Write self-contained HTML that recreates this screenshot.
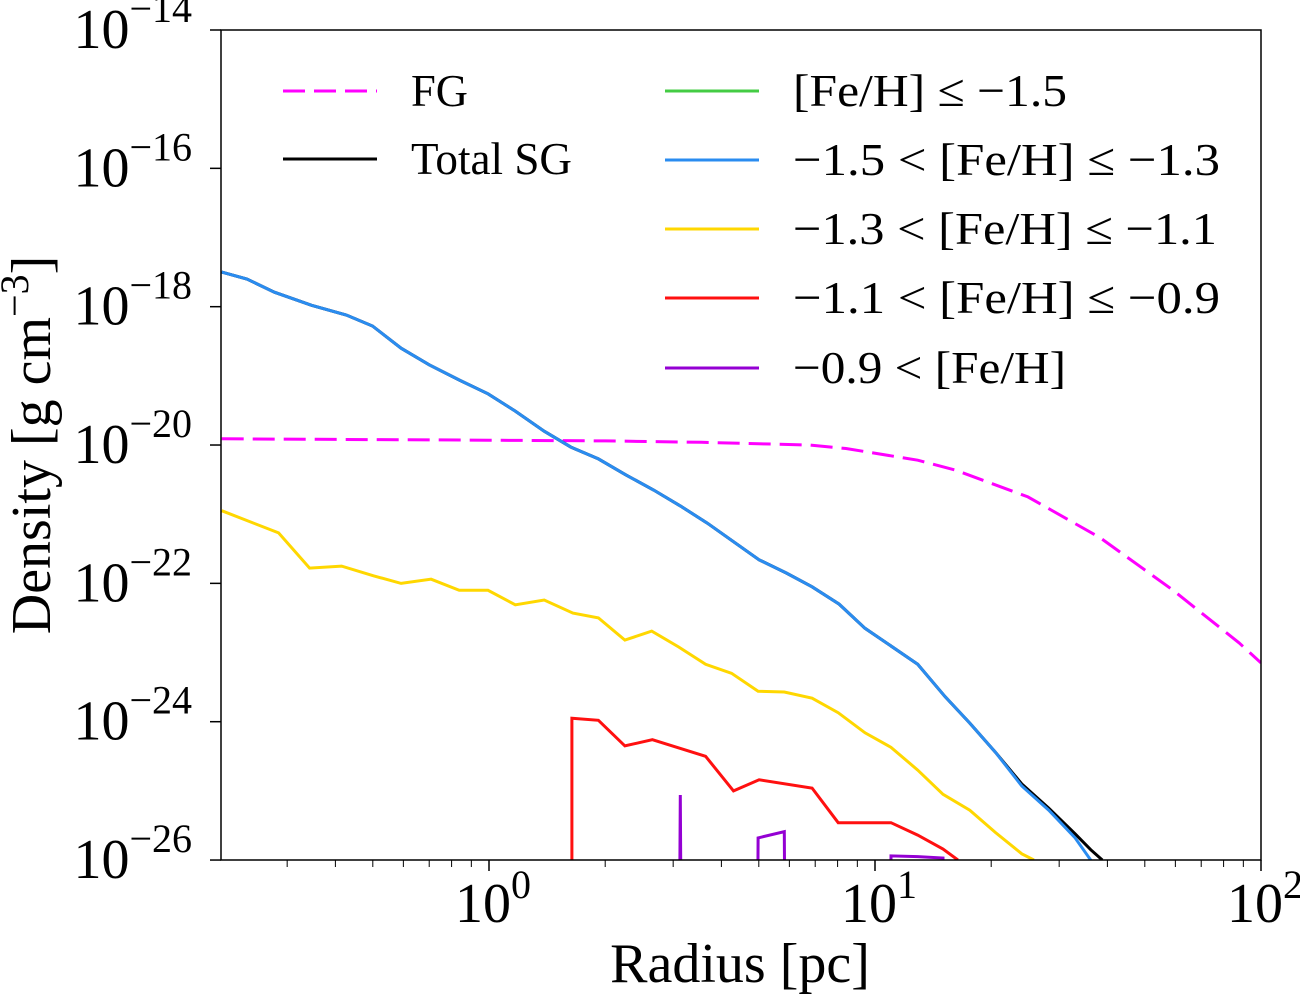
<!DOCTYPE html>
<html><head><meta charset="utf-8"><style>
html,body{margin:0;padding:0;background:#fff;overflow:hidden;width:1300px;height:1000px;}
svg{display:block;font-family:"Liberation Serif","DejaVu Serif",serif;}
</style></head><body>
<svg id="chart" width="1300" height="1000" viewBox="0 0 1300 1000" xmlns="http://www.w3.org/2000/svg">
<defs><clipPath id="plotclip"><rect x="221" y="30" width="1040" height="830"/></clipPath></defs>
<g id="plot" clip-path="url(#plotclip)"></g>
<rect x="221" y="30" width="1040" height="830" fill="none" stroke="#000" stroke-width="1.5"/>
<g id="ticks"></g>
<text x="740" y="982" font-size="56" text-anchor="middle">Radius [pc]</text>
<text transform="translate(50,445) rotate(-90)" font-size="56" text-anchor="middle">Density [g cm<tspan dy="-22" font-size="40">−3</tspan><tspan dy="22">]</tspan></text>
<g id="legend"></g>
</svg>
<script>
// ---- data ----
const fgRadius = [0.203, 1.0, 2.0, 3.55, 6.74, 8.41, 12.9, 16.1, 24.9, 38.3, 59.2, 87.7, 100];
const fgLogDensity = [-19.91, -19.93, -19.94, -19.96, -20.00, -20.05, -20.22, -20.36, -20.75, -21.34, -22.10, -22.86, -23.15];

const sgRadius = [0.203,0.236,0.278,0.347,0.427,0.499,0.592,0.700,0.837,0.994,1.17,1.39,1.63,1.92,2.26,2.67,3.13,3.68,5.01,5.89,6.87,8.07,9.42,10.9,12.9,15.2,17.6,20.5,24.0,28.2,33.0,36.2,38.8];
const totalLogDensity = [-17.50,-17.60,-17.79,-17.98,-18.12,-18.28,-18.60,-18.84,-19.06,-19.26,-19.51,-19.80,-20.03,-20.20,-20.43,-20.65,-20.88,-21.13,-21.66,-21.85,-22.05,-22.30,-22.65,-22.89,-23.17,-23.64,-24.02,-24.44,-24.90,-25.25,-25.62,-25.85,-26.00];
const blueLogDensity = [-17.50,-17.60,-17.79,-17.98,-18.12,-18.28,-18.60,-18.84,-19.06,-19.26,-19.51,-19.80,-20.03,-20.20,-20.43,-20.65,-20.88,-21.13,-21.66,-21.85,-22.05,-22.30,-22.65,-22.89,-23.17,-23.64,-24.02,-24.44,-24.93,-25.28,-25.68,-26.00,-26.30];

const yellowRadius = [0.203,0.285,0.343,0.415,0.502,0.592,0.708,0.837,0.994,1.17,1.39,1.65,1.92,2.25,2.64,3.10,3.64,4.25,4.98,5.82,6.87,8.03,9.42,11.0,12.9,15.0,17.6,20.5,24.0,25.8];
const yellowLogDensity = [-20.95,-21.27,-21.78,-21.75,-21.89,-22.00,-21.94,-22.10,-22.10,-22.31,-22.24,-22.43,-22.50,-22.82,-22.69,-22.92,-23.17,-23.30,-23.56,-23.57,-23.66,-23.87,-24.16,-24.37,-24.70,-25.05,-25.28,-25.60,-25.91,-26.00];

const redRadius = [1.64,1.64,1.92,2.25,2.65,3.64,4.30,5.01,6.87,8.03,9.42,11.0,12.9,15.0,16.4];
const redLogDensity = [-40,-23.95,-23.98,-24.35,-24.26,-24.50,-25.00,-24.84,-24.96,-25.46,-25.46,-25.46,-25.64,-25.84,-26.00];

const purpleRadius = [2.67,3.13,3.68,4.25,4.98,5.82,6.87,8.03,9.42,11.0,12.9,15.0,17.6];
const purpleLogDensity = [-90,-25.06,-90,-90,-25.68,-25.59,-90,-90,-90,-25.94,-25.95,-25.97,-90];

const yTickExps = [-14,-16,-18,-20,-22,-24,-26];
const xTickExps = [0,1,2];

// ---- axes ----
const X0=489, DEC=386, YTOP=30, YDEC=69.17;
function xs(r){return X0+Math.log10(r)*DEC;}
function ys(l){return YTOP+(-14-l)*YDEC;}
const NS='http://www.w3.org/2000/svg';
function mk(tag,attrs,parent){const e=document.createElementNS(NS,tag);for(const k in attrs)e.setAttribute(k,attrs[k]);parent.appendChild(e);return e;}

const plot=document.getElementById('plot');
function line(rs,ls,color,name,dash){
  const pts=rs.map((r,i)=>xs(r).toFixed(1)+','+ys(ls[i]).toFixed(1)).join(' ');
  const p=mk('polyline',{points:pts,fill:'none',stroke:color,'stroke-width':3,'stroke-linejoin':'miter'},plot);
  if(dash)p.setAttribute('stroke-dasharray',dash);
  
  
}
line(fgRadius,fgLogDensity,'#ff00ff','fg-line','22,9');
line(yellowRadius,yellowLogDensity,'#ffd700','feh-13-11-line');
line(redRadius,redLogDensity,'#ff1010','feh-11-09-line');
line(purpleRadius,purpleLogDensity,'#9400d3','feh-above-09-line');
line(sgRadius,totalLogDensity,'#000000','total-sg-line');
line(sgRadius,blueLogDensity,'#2a8cf0','feh-15-13-line');

const tk=document.getElementById('ticks');
yTickExps.forEach(e=>{
  const y=ys(e);
  const t=mk('line',{x1:210,x2:221,y1:y,y2:y,stroke:'#000','stroke-width':1.5},tk);
  
  
  const tx=mk('text',{x:192,y:y+18,'font-size':56,'text-anchor':'end'},tk);
  
  
  const a=mk('tspan',{},tx);a.textContent='10';
  const b=mk('tspan',{dy:-26,'font-size':40},tx);b.textContent='−'+Math.abs(e);
});
xTickExps.forEach(e=>{
  const x=X0+e*DEC;
  const t=mk('line',{x1:x,x2:x,y1:860,y2:871,stroke:'#000','stroke-width':1.5},tk);
  
  
  const tx=mk('text',{x:x+4,y:922,'font-size':56,'text-anchor':'middle'},tk);
  
  
  const a=mk('tspan',{},tx);a.textContent='10';
  const b=mk('tspan',{dy:-24,'font-size':40},tx);b.textContent=String(e);
});
for(let d=-1;d<=1;d++){for(let m=2;m<=9;m++){
  const x=X0+(d+Math.log10(m))*DEC;
  if(x<221||x>1261)continue;
  const t=mk('line',{x1:x,x2:x,y1:860,y2:867,stroke:'#000','stroke-width':1},tk);
  
  
}}

// ---- legend ----
const lg=document.getElementById('legend');
const legendEntries=[
 {x:283,y:91,c:'#ff00ff',d:'22,9',t:'FG',w:57},
 {x:283,y:159,c:'#000000',d:null,t:'Total SG',w:161},
 {x:665,y:91,c:'#44cc44',d:null,t:'[Fe/H] ≤ −1.5',w:274},
 {x:665,y:160,c:'#2a8cf0',d:null,t:'−1.5 < [Fe/H] ≤ −1.3',w:427},
 {x:665,y:229,c:'#ffd700',d:null,t:'−1.3 < [Fe/H] ≤ −1.1',w:424},
 {x:665,y:298,c:'#ff1010',d:null,t:'−1.1 < [Fe/H] ≤ −0.9',w:427},
 {x:665,y:368,c:'#9400d3',d:null,t:'−0.9 < [Fe/H]',w:273}
];
legendEntries.forEach(en=>{
  const g=mk('g',{},lg);
  
  
  const l=mk('line',{x1:en.x,x2:en.x+94,y1:en.y,y2:en.y,stroke:en.c,'stroke-width':3},g);
  if(en.d)l.setAttribute('stroke-dasharray',en.d);
  const t=mk('text',{x:en.x+128,y:en.y+15,'font-size':46,textLength:en.w,lengthAdjust:'spacingAndGlyphs'},g);
  t.textContent=en.t;
});
</script>
</body></html>
